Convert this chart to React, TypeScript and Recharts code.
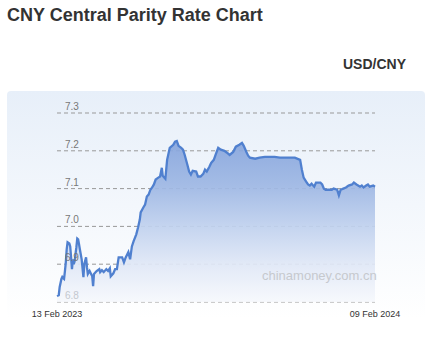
import { AreaChart, Area, XAxis, YAxis, CartesianGrid } from "recharts";

// days since 13 Feb 2023
const days = [
  0, 2, 3, 5, 6, 7, 8, 9, 10, 11, 12, 14, 15, 16, 17, 18, 19, 20, 22, 23, 24, 25, 26, 28, 30, 31, 33, 34, 35, 37,
  40, 41, 42, 45, 48, 49, 51, 53, 56, 58, 60, 61, 64, 66, 68, 70, 74, 76, 78, 81, 83, 85, 87, 90, 92, 94, 95, 98,
  100, 102, 104, 106, 108, 110, 112, 115, 117, 119, 120, 123, 125, 128, 132, 134, 136, 138, 141, 143, 145, 148,
  150, 152, 154, 158, 160, 163, 166, 168, 170, 173, 175, 178, 180, 183, 186, 190, 193, 196, 200, 203, 207, 210,
  212, 215, 217, 219, 225, 230, 236, 242, 247, 253, 259, 264, 270, 276, 278, 280, 283, 285, 287, 289, 292, 294,
  296, 299, 301, 303, 305, 308, 310, 312, 314, 318, 320, 322, 325, 328, 331, 335, 337, 340, 344, 346, 348, 351,
  353, 355, 359, 361,
];

const rates = [
  6.816, 6.818, 6.839, 6.861, 6.866, 6.863, 6.861, 6.882, 6.905, 6.939, 6.958, 6.955, 6.947, 6.918, 6.887, 6.913,
  6.9, 6.908, 6.945, 6.968, 6.966, 6.953, 6.939, 6.913, 6.866, 6.9, 6.918, 6.892, 6.874, 6.882, 6.868, 6.842,
  6.874, 6.882, 6.887, 6.879, 6.884, 6.879, 6.887, 6.882, 6.889, 6.868, 6.876, 6.887, 6.887, 6.918, 6.918, 6.905,
  6.918, 6.932, 6.913, 6.947, 6.961, 6.979, 6.997, 7.018, 7.037, 7.05, 7.058, 7.079, 7.084, 7.097, 7.103, 7.111,
  7.124, 7.129, 7.132, 7.155, 7.134, 7.126, 7.176, 7.208, 7.216, 7.224, 7.226, 7.213, 7.208, 7.203, 7.189, 7.163,
  7.145, 7.137, 7.147, 7.145, 7.132, 7.132, 7.139, 7.15, 7.145, 7.158, 7.168, 7.176, 7.189, 7.208, 7.203, 7.2,
  7.195, 7.189, 7.197, 7.211, 7.216, 7.221, 7.213, 7.197, 7.187, 7.182, 7.179, 7.182, 7.184, 7.184, 7.184, 7.182,
  7.182, 7.182, 7.182, 7.176, 7.15, 7.129, 7.118, 7.111, 7.108, 7.113, 7.105, 7.116, 7.116, 7.116, 7.111, 7.1,
  7.097, 7.097, 7.097, 7.097, 7.1, 7.097, 7.082, 7.097, 7.1, 7.103, 7.108, 7.111, 7.116, 7.111, 7.105, 7.108,
  7.103, 7.108, 7.111, 7.105, 7.108, 7.105,
];

const yTicks = [6.8, 6.9, 7.0, 7.1, 7.2, 7.3];
const xTicks = [0, 361];
const xTickLabels = ["13 Feb 2023", "09 Feb 2024"];

const data = days.map((d, i) => ({ day: d, rate: rates[i] }));

const font = "Arial, 'Liberation Sans', sans-serif";

const renderYTick = (props: any) => {
  const { y, payload } = props;
  // the bottom label sits under the pale area fill in the original
  const fill = payload.value < 6.85 ? "#c4c8cf" : "#777";
  return (
    <text x={65} y={y - 3} fontSize={10} fill={fill} fontFamily={font}>
      {Number(payload.value).toFixed(1)}
    </text>
  );
};

const renderXTick = (props: any) => {
  const { x, payload } = props;
  const idx = xTicks.indexOf(payload.value);
  return (
    <text x={x} y={317} fontSize={9} fill="#333" textAnchor="middle" fontFamily={font}>
      {xTickLabels[idx]}
    </text>
  );
};

export default function App() {
  return (
    <div
      style={{
        position: "absolute",
        left: 0,
        top: 0,
        width: 444,
        height: 345,
        background: "#fff",
        fontFamily: font,
      }}
    >
      <div style={{ position: "absolute", left: 7, top: 5, fontSize: 18, fontWeight: "bold", color: "#333" }}>
        CNY Central Parity Rate Chart
      </div>
      <div style={{ position: "absolute", left: 343, top: 56, fontSize: 14, fontWeight: "bold", color: "#333" }}>
        USD/CNY
      </div>
      <div
        style={{
          position: "absolute",
          left: 7,
          top: 91,
          width: 418,
          height: 228,
          borderRadius: 4,
          background: "linear-gradient(#e7eff9, #ffffff)",
        }}
      />
      <div style={{ position: "absolute", left: 0, top: 0 }}>
        <AreaChart width={444} height={345} data={data} margin={{ top: 113, left: 27, right: 69, bottom: 13 }}>
          <defs>
            <linearGradient id="rateFill" x1="0" y1="0" x2="0" y2="1">
              <stop offset="0%" stopColor="#85a4dc" stopOpacity={0.92} />
              <stop offset="29%" stopColor="#9fb8e4" stopOpacity={0.92} />
              <stop offset="53%" stopColor="#c0d1ee" stopOpacity={0.92} />
              <stop offset="76%" stopColor="#dfe7f6" stopOpacity={0.92} />
              <stop offset="100%" stopColor="#f6f8fc" stopOpacity={0.9} />
            </linearGradient>
          </defs>
          <CartesianGrid vertical={false} stroke="#999" strokeDasharray="4 3" />
          <XAxis
            dataKey="day"
            type="number"
            domain={[0, 361]}
            ticks={xTicks}
            interval={0}
            axisLine={false}
            tickLine={false}
            tick={renderXTick}
            height={30}
          />
          <YAxis
            domain={[6.8, 7.3]}
            ticks={yTicks}
            interval={0}
            axisLine={false}
            tickLine={false}
            tick={renderYTick}
            width={30}
          />
          <Area
            type="linear"
            dataKey="rate"
            stroke="#5080cf"
            strokeWidth={2.3}
            fill="url(#rateFill)"
            fillOpacity={1}
            isAnimationActive={false}
            dot={false}
            activeDot={false}
          />
        </AreaChart>
      </div>
      <div
        style={{
          position: "absolute",
          left: 262,
          top: 268,
          width: 113,
          textAlign: "right",
          fontSize: 13,
          color: "#c6c9ce",
          whiteSpace: "nowrap",
        }}
      >
        chinamoney.com.cn
      </div>
    </div>
  );
}
